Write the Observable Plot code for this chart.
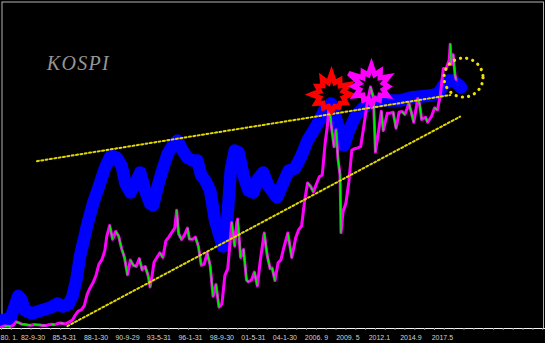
<!DOCTYPE html>
<html><head><meta charset="utf-8">
<script src="https://cdn.jsdelivr.net/npm/d3@7"></script>
<script src="https://cdn.jsdelivr.net/npm/@observablehq/plot@0.6"></script>
<style>html,body{margin:0;padding:0;background:#000;overflow:hidden}</style>
</head><body><div id="chart"></div>
<script>
// ---- data ----
const tickMonths = ["1980-01","1982-09","1985-05","1988-01","1990-09","1993-05","1996-01","1998-09","2001-05","2004-01","2006-09","2009-05","2012-01","2014-09","2017-05"];
const tickLabels = ["80. 1.","82-9-30","85-5-31","88-1-30","90-9-29","93-5-31","96-1-31","98-9-30","01-5-31","04-1-30","2006. 9","2009. 5","2012.1","2014.9","2017.5"];

const priceMonths = ["1980-01","1980-04","1980-07","1980-10","1981-01","1981-04","1981-07","1981-10","1982-01","1982-04","1982-07","1982-10","1983-01","1983-04","1983-07","1983-10","1984-01","1984-04","1984-07","1984-10","1985-01","1985-04","1985-07","1985-10","1986-01","1986-04","1986-07","1986-10","1987-01","1987-04","1987-07","1987-10","1988-01","1988-04","1988-07","1988-10","1988-12","1989-03","1989-06","1989-09","1989-12","1990-03","1990-06","1990-09","1990-12","1991-03","1991-06","1991-09","1991-12","1992-03","1992-06","1992-08","1992-10","1992-12","1993-03","1993-06","1993-09","1993-12","1994-03","1994-06","1994-09","1994-11","1995-01","1995-04","1995-07","1995-10","1995-12","1996-03","1996-06","1996-09","1996-12","1997-03","1997-06","1997-09","1997-12","1998-03","1998-06","1998-09","1998-12","1999-03","1999-07","1999-10","1999-12","2000-01","2000-04","2000-07","2000-10","2000-12","2001-03","2001-06","2001-09","2001-12","2002-04","2002-07","2002-10","2002-12","2003-03","2003-06","2003-09","2003-12","2004-04","2004-08","2004-12","2005-03","2005-06","2005-09","2005-12","2006-03","2006-06","2006-09","2006-12","2007-03","2007-06","2007-08","2007-10","2007-12","2008-03","2008-05","2008-07","2008-09","2008-10","2008-12","2009-03","2009-06","2009-09","2009-12","2010-03","2010-06","2010-09","2010-12","2011-04","2011-07","2011-09","2011-12","2012-03","2012-05","2012-09","2012-12","2013-03","2013-06","2013-09","2013-12","2014-03","2014-07","2014-09","2014-12","2015-04","2015-06","2015-08","2015-12","2016-02","2016-06","2016-09","2016-12","2017-03","2017-06","2017-09","2017-12","2018-01","2018-02","2018-04","2018-06","2018-07"];
const priceValues = [105,113,112,108,120,150,140,128,126,122,120,126,124,122,118,117,125,128,125,135,140,133,135,150,165,210,245,255,290,390,450,495,560,660,700,780,907,1003,880,950,910,800,720,566,696,650,640,710,610,640,560,459,560,678,720,760,720,866,900,940,980,1138,930,880,920,980,882,880,900,820,651,660,760,650,376,480,280,310,562,620,1030,820,1028,1059,720,790,520,504,520,590,468,693,937,740,620,627,515,670,700,810,936,719,895,965,1000,1220,1379,1350,1300,1370,1434,1450,1740,1870,2064,1897,1700,1850,1590,1450,938,1124,1200,1390,1670,1682,1690,1700,1870,2051,2228,2133,1652,1825,2014,1843,1996,1997,2005,1863,2005,2011,1985,2082,2020,1916,2127,2074,1941,1961,1916,1970,2043,2026,2160,2392,2394,2467,2607,2427,2515,2326,2295];

const indicatorMonths = ["1980-02","1980-10","1981-03","1981-06","1981-09","1982-01","1982-08","1983-05","1984-03","1984-10","1985-03","1985-09","1986-01","1986-05","1986-09","1987-04","1987-10","1988-05","1988-10","1989-04","1989-10","1990-03","1990-07","1990-12","1991-05","1991-10","1992-03","1992-08","1992-11","1993-04","1993-09","1994-02","1994-07","1994-12","1995-05","1995-10","1996-03","1996-08","1996-12","1997-04","1997-09","1998-02","1998-08","1998-10","1999-02","1999-06","1999-10","2000-02","2000-07","2000-12","2001-05","2001-10","2002-03","2002-08","2003-01","2003-05","2003-11","2004-05","2004-11","2005-05","2005-12","2006-08","2007-01","2007-06","2007-12","2008-05","2008-10","2009-01","2009-06","2010-01","2010-08","2011-04","2012-02","2012-12","2013-10","2014-09","2015-07","2016-05","2017-01","2017-06","2017-11","2018-04","2018-09","2018-12"];
const indicatorValues = [165,180,300,380,350,250,225,250,277,312,286,304,374,516,737,1002,1197,1374,1507,1622,1604,1534,1374,1295,1374,1472,1312,1197,1180,1357,1507,1640,1711,1755,1666,1604,1578,1578,1445,1401,1313,1047,870,817,1003,1490,1666,1649,1445,1313,1295,1419,1472,1357,1295,1251,1374,1490,1507,1604,1755,1870,1949,2038,2082,1949,1799,1711,1843,1976,2038,2091,2109,2109,2109,2135,2144,2153,2170,2242,2286,2286,2250,2224];

const upperTrendMonths = ["1983-01","2018-01"];
const upperTrendValues = [1572, 2157];
const lowerTrendMonths = ["1985-08","2018-11"];
const lowerTrendValues = [112, 1966];

const starMonths = ["2007-12-13","2011-05-01"];
const starValues = [2162, 2233];
const circleMonth = ["2019-02-15"];
const circleValue = [2312];

const titleMonth = ["1983-11-01"];
const titleValue = [2383];
const titleText = ["KOSPI"];

// ---- helpers ----
const toDate = s => new Date(s.length === 7 ? s + "-01" : s);
const price = priceMonths.map((m, i) => ({date: toDate(m), value: priceValues[i]}));
const indicator = indicatorMonths.map((m, i) => ({date: toDate(m), value: indicatorValues[i]}));
const upper = upperTrendMonths.map((m, i) => ({date: toDate(m), value: upperTrendValues[i]}));
const lower = lowerTrendMonths.map((m, i) => ({date: toDate(m), value: lowerTrendValues[i]}));
const downSegs = [];
for (let i = 1; i < price.length; ++i) {
  if (price[i].value < price[i-1].value) downSegs.push({x1: price[i-1].date, y1: price[i-1].value, x2: price[i].date, y2: price[i].value});
}
const tickDates = tickMonths.map(toDate);
const labelMap = new Map(tickDates.map((d, i) => [+d, tickLabels[i]]));
const minorTicks = d3.range(0, 56).map(k => new Date(Date.UTC(1980, k * 10, 1)));

const xDomain = [new Date("1979-12-01"), new Date("2026-01-25")];
const yDomain = [91, 2985];

function starSymbol(outer, inner) {
  return {draw(ctx, size) {
    const r = Math.sqrt(size / Math.PI);
    const n = outer.length;
    for (let i = 0; i < n; ++i) {
      const a0 = (i / n) * 2 * Math.PI - Math.PI / 2;
      const a1 = ((i + 0.5) / n) * 2 * Math.PI - Math.PI / 2;
      const xo = r * outer[i] * Math.cos(a0), yo = r * outer[i] * Math.sin(a0);
      if (i === 0) ctx.moveTo(xo, yo); else ctx.lineTo(xo, yo);
      ctx.lineTo(r * inner * Math.cos(a1), r * inner * Math.sin(a1));
    }
    ctx.closePath();
  }};
}
const redStar = starSymbol([1.0,0.8,0.95,0.9,0.8,0.7,0.8,0.75,0.85,0.95,0.8,0.9], 0.58);
const pinkStar = starSymbol([1.0,0.85,0.95,0.8,0.9,0.75,0.85,0.75,0.9,0.85,1.25,0.8], 0.58);

const axisFont = {color: "#d2d2d2", fontSize: 7};

const chart = Plot.plot({
  width: 545, height: 343,
  marginLeft: 0, marginRight: 0, marginTop: 1, marginBottom: 15,
  x: {type: "utc", domain: xDomain},
  y: {domain: yDomain, axis: null},
  style: {background: "#000", color: "#cfcfcf", fontFamily: "Liberation Sans, Arial, sans-serif"},
  marks: [
    Plot.frame({stroke: "#b4b4b4", insetLeft: 1.5, insetRight: 2, insetTop: 0.5}),
    Plot.text(titleText, {x: titleMonth.map(toDate), y: titleValue, text: d => d, textAnchor: "start", lineAnchor: "bottom", fill: "#959595", fontSize: 20, fontStyle: "italic", fontFamily: "Liberation Serif, Times New Roman, serif"}),
    Plot.line(indicator, {x: "date", y: "value", stroke: "#0000ff", strokeWidth: 12.5, strokeLinejoin: "round", strokeLinecap: "round", clip: true}),
    Plot.line(price, {x: "date", y: "value", stroke: "#ff00ff", strokeWidth: 3, clip: true}),
    Plot.link(downSegs, {x1: "x1", y1: "y1", x2: "x2", y2: "y2", stroke: "#00ee00", strokeWidth: 1.5, clip: true}),
    Plot.line(upper, {x: "date", y: "value", stroke: "#e0d800", strokeWidth: 2, strokeDasharray: "2 2.4"}),
    Plot.line(lower, {x: "date", y: "value", stroke: "#e0d800", strokeWidth: 2, strokeDasharray: "2 2.4"}),
    Plot.dot([0], {x: [toDate(starMonths[0])], y: [starValues[0]], r: 21, symbol: redStar, stroke: "#ff0000", strokeWidth: 5, fill: "none"}),
    Plot.dot([0], {x: [toDate(starMonths[1])], y: [starValues[1]], r: 21, symbol: pinkStar, stroke: "#ff00ff", strokeWidth: 5, fill: "none"}),
    Plot.dot([0], {x: circleMonth.map(toDate), y: circleValue, r: 19.5, stroke: "#f0e000", strokeWidth: 3.2, strokeDasharray: "0.1 6.2", strokeLinecap: "round", fill: "none"}),
    Plot.ruleY([yDomain[0]], {stroke: "#f4f4f4", strokeWidth: 1.2}),
    Plot.axisX(minorTicks, {tickSize: 2, tickFormat: () => "", color: "#8a8a8a"}),
    Plot.axisX(tickDates.slice(0, 1), {tickSize: 0, tickPadding: 7, tickFormat: d => labelMap.get(+d), textAnchor: "start", dx: -1, ...axisFont}),
    Plot.axisX(tickDates.slice(1), {tickSize: 0, tickPadding: 7, tickFormat: d => labelMap.get(+d), ...axisFont})
  ]
});
document.getElementById("chart").append(chart);
d3.select(chart).selectAll("text").filter(function() { return this.textContent === "KOSPI"; }).attr("letter-spacing", "1.3px");
</script>
</body></html>
